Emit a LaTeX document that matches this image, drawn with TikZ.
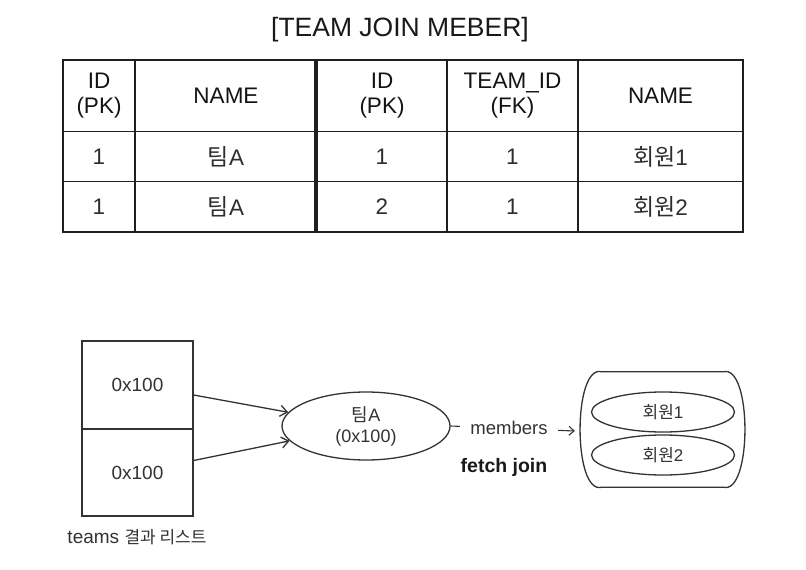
\documentclass[tikz,border=0pt]{standalone}
\usepackage{fontspec}
\setmainfont{Liberation Sans}
\newfontfamily\krfont{Noto Sans CJK KR}
\newcommand\kr[1]{{\krfont #1}}
\usetikzlibrary{arrows.meta,shapes.geometric}
\begin{document}
\begin{tikzpicture}[x=1pt,y=-1pt,
  grid/.style={line width=1.8pt,black!88},
  cell/.style={font=\fontsize{22.5}{25}\selectfont,align=center,text=black!82,inner sep=0pt},
  head/.style={cell,text=black!92},
  diag/.style={line width=1.3pt,black!80},
  lbl/.style={font=\fontsize{19}{21}\selectfont,align=center,text=black!80,inner sep=0pt},
  arr/.style={diag,-{Straight Barb[length=7pt,width=11pt,line width=1.3pt]}},
  memb/.style={ellipse,draw,diag,minimum width=143pt,minimum height=40pt,inner sep=0pt,font=\fontsize{17}{19}\selectfont,text=black!80}]
\useasboundingbox (0,0) rectangle (806,570);
\fill[white] (0,0) rectangle (806,570);
% title
\node[font=\fontsize{26.5}{28}\selectfont,text=black!90] (title) at (400,30) {[TEAM JOIN MEBER]};
% table grid
\draw[grid] (63,60) rectangle (743,232);
\draw[grid] (63,131.5) -- (743,131.5);
\draw[grid] (63,181.5) -- (743,181.5);
\draw[grid] (135,60) -- (135,232);
\draw[line width=3.2pt,black!88] (316,60) -- (316,232);
\draw[grid] (447,60) -- (447,232);
\draw[grid] (578,60) -- (578,232);
% header
\node[head] (h1) at (99,95.5) {ID\\(PK)};
\node[head] (h2) at (226,95.5) {NAME};
\node[head] (h3) at (382,95.5) {ID\\(PK)};
\node[head] (h4) at (512.5,95.5) {TEAM\_ID\\(FK)};
\node[head] (h5) at (660.5,95.5) {NAME};
% row 1
\node[cell] (a1) at (99,156.5) {1};
\node[cell] (a2) at (226,156.5) {\kr{\fontsize{23}{25}\selectfont 팀}A};
\node[cell] (a3) at (382,156.5) {1};
\node[cell] (a4) at (512.5,156.5) {1};
\node[cell] (a5) at (660.5,156.5) {\kr{\fontsize{23}{25}\selectfont 회원}1};
% row 2
\node[cell] (b1) at (99,207) {1};
\node[cell] (b2) at (226,207) {\kr{\fontsize{23}{25}\selectfont 팀}A};
\node[cell] (b3) at (382,207) {2};
\node[cell] (b4) at (512.5,207) {1};
\node[cell] (b5) at (660.5,207) {\kr{\fontsize{23}{25}\selectfont 회원}2};
% result list
\node[draw,diag,minimum width=111pt,minimum height=88pt,inner sep=0pt,lbl] (cellA) at (137.5,385) {0x100};
\node[draw,diag,minimum width=111pt,minimum height=87pt,inner sep=0pt,lbl] (cellB) at (137.5,472.5) {0x100};
\node[lbl] (cap) at (137,537) {teams \kr{\fontsize{17}{19}\selectfont 결과 리스트}};
% team entity
\node[ellipse,draw,diag,minimum width=168pt,minimum height=68pt,inner sep=0pt,lbl,font=\fontsize{18}{21}\selectfont] (teamA) at (366,426) {\kr{팀}A\\(0x100)};
\draw[arr] ([yshift=-10pt]cellA.east) -- (teamA.170);
\draw[arr] ([yshift=12pt]cellB.east) -- (teamA.191);
% members collection
\node[minimum width=169pt,minimum height=115pt,inner sep=0pt] (coll) at (662.5,429.5) {};
\draw[diag] ([xshift=24pt]coll.north west) -- ([xshift=-24pt]coll.north east)
  .. controls ([xshift=5pt,yshift=8pt]coll.north east) and ([xshift=5pt,yshift=-8pt]coll.south east) .. ([xshift=-24pt]coll.south east)
  -- ([xshift=24pt]coll.south west)
  .. controls ([xshift=-5pt,yshift=-8pt]coll.south west) and ([xshift=-5pt,yshift=8pt]coll.north west) .. ([xshift=24pt]coll.north west) -- cycle;
\node[memb] (m1) at (663,412) {\kr{회원}1};
\node[memb] (m2) at (663,455) {\kr{회원}2};
\draw[diag,line width=1.1pt,-{Straight Barb[length=5pt,width=9pt,line width=1.1pt]}] (teamA.east) -- node[lbl,pos=0.47,fill=white,inner xsep=10pt,inner ysep=3pt,font=\fontsize{18.5}{20}\selectfont] (mlbl) {members} ([xshift=-3pt,yshift=-1.5pt]coll.west);
\node[lbl,font=\bfseries\fontsize{19.5}{21}\selectfont,text=black!90] (fj) at (504,467) {fetch join};
\end{tikzpicture}
\end{document}
